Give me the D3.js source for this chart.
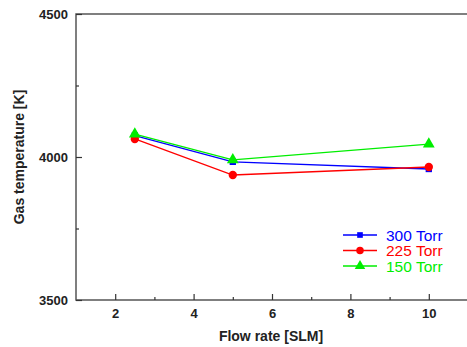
<!DOCTYPE html>
<html>
<head>
<meta charset="utf-8">
<script src="https://cdn.jsdelivr.net/npm/d3@7"></script>
<style>
  body { margin: 0; background: #fff; }
  svg text { font-family: "Liberation Sans", Arial, sans-serif; }
</style>
</head>
<body>
<div id="chart"></div>
<script>
// Data
const flowRates = [2.5, 5, 10];
const torr300 = [4075, 3983, 3958];
const torr225 = [4063, 3937, 3965];
const torr150 = [4080, 3990, 4045];
const seriesNames = ["300 Torr", "225 Torr", "150 Torr"];
const xTicks = [2, 4, 6, 8, 10];
const yTicks = [3500, 4000, 4500];

const series = [
  { name: seriesNames[0], values: torr300, color: "#0000ff", symbol: d3.symbolSquare, size: 40 },
  { name: seriesNames[1], values: torr225, color: "#ff0000", symbol: d3.symbolCircle, size: 55 },
  { name: seriesNames[2], values: torr150, color: "#00ee00", symbol: d3.symbolTriangle, size: 60 }
];

const W = 467, H = 347;
const margin = { top: 14, right: 0, bottom: 47, left: 76 };
const width = 468 - margin.left; // plot runs off the right edge
const height = H - margin.top - margin.bottom;

const svg = d3.select("#chart").append("svg")
  .attr("width", W).attr("height", H);
const g = svg.append("g")
  .attr("transform", `translate(${margin.left},${margin.top})`);

const x = d3.scaleLinear().domain([1, 11]).range([0, width]);
const y = d3.scaleLinear().domain([3500, 4500]).range([height, 0]);

// frame
g.append("rect")
  .attr("width", width).attr("height", height)
  .attr("fill", "none").attr("stroke", "#555").attr("stroke-width", 1.5);

// x axis (ticks inward)
g.append("g")
  .attr("transform", `translate(0,${height})`)
  .call(d3.axisBottom(x).tickValues(xTicks).tickSize(-6).tickPadding(9).tickFormat(d3.format("d")));
g.append("g")
  .attr("transform", `translate(0,${height})`)
  .call(d3.axisBottom(x).tickValues([3, 5, 7, 9]).tickSize(-3).tickFormat(""));

// y axis
g.append("g")
  .call(d3.axisLeft(y).tickValues(yTicks).tickSize(-6).tickPadding(8).tickFormat(d3.format("d")));
g.append("g")
  .call(d3.axisLeft(y).tickValues([3750, 4250]).tickSize(-3).tickFormat(""));

g.selectAll(".domain").remove();
g.selectAll(".tick line").attr("stroke", "#333").attr("stroke-width", 1.2);
g.selectAll(".tick text")
  .attr("fill", "#222").style("font-size", "13px").style("font-weight", "bold");

// lines and markers
const line = d3.line()
  .x((d, i) => x(flowRates[i]))
  .y(d => y(d));

series.forEach(s => {
  g.append("path")
    .datum(s.values)
    .attr("fill", "none")
    .attr("stroke", s.color)
    .attr("stroke-width", 1.3)
    .attr("d", line);
  g.selectAll(null)
    .data(s.values)
    .enter().append("path")
    .attr("transform", (d, i) => `translate(${x(flowRates[i])},${y(d)})`)
    .attr("d", d3.symbol().type(s.symbol).size(s.size))
    .attr("fill", s.color);
});

// legend
const legend = g.append("g")
  .attr("transform", `translate(${343 - margin.left},${235 - margin.top})`);
series.forEach((s, i) => {
  const row = legend.append("g").attr("transform", `translate(0,${i * 15.5})`);
  row.append("line")
    .attr("x1", 0).attr("x2", 34)
    .attr("stroke", s.color).attr("stroke-width", 1.3);
  row.append("path")
    .attr("transform", "translate(17,0)")
    .attr("d", d3.symbol().type(s.symbol).size(s.size * 0.8))
    .attr("fill", s.color);
  row.append("text")
    .attr("x", 43).attr("dy", "0.36em")
    .attr("fill", s.color)
    .style("font-size", "15.5px")
    .text(s.name);
});

// axis titles
svg.append("text")
  .attr("x", 271).attr("y", 341)
  .attr("text-anchor", "middle")
  .attr("fill", "#222")
  .style("font-size", "14px").style("font-weight", "bold")
  .text("Flow rate [SLM]");

svg.append("text")
  .attr("transform", `translate(24,157) rotate(-90)`)
  .attr("text-anchor", "middle")
  .attr("fill", "#222")
  .style("font-size", "14px").style("font-weight", "bold")
  .text("Gas temperature [K]");
</script>
</body>
</html>
